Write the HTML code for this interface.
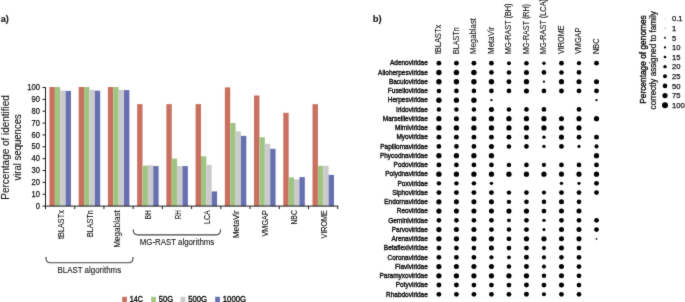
<!DOCTYPE html>
<html><head><meta charset="utf-8"><title>Figure</title>
<style>
html,body{margin:0;padding:0;background:#fff;}
body{width:685px;height:302px;overflow:hidden;}
svg{display:block;font-family:"Liberation Sans", sans-serif;}
text{stroke:#111111;stroke-width:0.4px;}
text.l{stroke-width:0.1px;}
text.m{stroke-width:0.25px;}
</style></head>
<body>
<svg width="685" height="302" viewBox="0 0 685 302" fill="#111111">
<defs><filter id="sb" x="0" y="0" width="685" height="302" filterUnits="userSpaceOnUse" color-interpolation-filters="sRGB"><feConvolveMatrix order="3" kernelMatrix="0.02 0.07 0.02 0.07 0.64 0.07 0.02 0.07 0.02" edgeMode="duplicate" preserveAlpha="true"/></filter></defs>
<g filter="url(#sb)">
<rect x="0" y="0" width="685" height="302" fill="#fff"/>
<rect x="49.45" y="87.00" width="5.375" height="119.10" fill="#C9705F"/>
<rect x="54.83" y="87.00" width="5.375" height="119.10" fill="#A0C582"/>
<rect x="60.20" y="90.50" width="5.375" height="115.60" fill="#CBCBCD"/>
<rect x="65.58" y="90.90" width="5.375" height="115.20" fill="#6670B0"/>
<text class="l" transform="translate(63.60,210.2) rotate(-90)" text-anchor="end" font-size="8.9" textLength="28.8" lengthAdjust="spacingAndGlyphs">tBLASTx</text>
<rect x="78.68" y="87.00" width="5.375" height="119.10" fill="#C9705F"/>
<rect x="84.06" y="87.00" width="5.375" height="119.10" fill="#A0C582"/>
<rect x="89.43" y="89.90" width="5.375" height="116.20" fill="#CBCBCD"/>
<rect x="94.81" y="90.70" width="5.375" height="115.40" fill="#6670B0"/>
<text class="l" transform="translate(92.83,210.2) rotate(-90)" text-anchor="end" font-size="8.9" textLength="26.8" lengthAdjust="spacingAndGlyphs">BLASTn</text>
<rect x="107.91" y="87.00" width="5.375" height="119.10" fill="#C9705F"/>
<rect x="113.28" y="87.00" width="5.375" height="119.10" fill="#A0C582"/>
<rect x="118.66" y="89.90" width="5.375" height="116.20" fill="#CBCBCD"/>
<rect x="124.03" y="90.10" width="5.375" height="116.00" fill="#6670B0"/>
<text class="l" transform="translate(120.26,210.2) rotate(-90)" text-anchor="end" font-size="8.9" textLength="37.5" lengthAdjust="spacingAndGlyphs">Megablast</text>
<rect x="137.14" y="104.10" width="5.375" height="102.00" fill="#C9705F"/>
<rect x="142.51" y="165.70" width="5.375" height="40.40" fill="#A0C582"/>
<rect x="147.89" y="165.20" width="5.375" height="40.90" fill="#CBCBCD"/>
<rect x="153.26" y="166.10" width="5.375" height="40.00" fill="#6670B0"/>
<text class="l" transform="translate(151.29,210.2) rotate(-90)" text-anchor="end" font-size="8.9" textLength="9.1" lengthAdjust="spacingAndGlyphs">BH</text>
<rect x="166.37" y="104.10" width="5.375" height="102.00" fill="#C9705F"/>
<rect x="171.75" y="158.60" width="5.375" height="47.50" fill="#A0C582"/>
<rect x="177.12" y="166.10" width="5.375" height="40.00" fill="#CBCBCD"/>
<rect x="182.50" y="166.10" width="5.375" height="40.00" fill="#6670B0"/>
<text class="l" transform="translate(180.52,210.2) rotate(-90)" text-anchor="end" font-size="8.9" textLength="9.1" lengthAdjust="spacingAndGlyphs">RH</text>
<rect x="195.60" y="104.10" width="5.375" height="102.00" fill="#C9705F"/>
<rect x="200.98" y="156.30" width="5.375" height="49.80" fill="#A0C582"/>
<rect x="206.35" y="164.90" width="5.375" height="41.20" fill="#CBCBCD"/>
<rect x="211.73" y="191.40" width="5.375" height="14.70" fill="#6670B0"/>
<text class="l" transform="translate(209.75,210.2) rotate(-90)" text-anchor="end" font-size="8.9" textLength="13.7" lengthAdjust="spacingAndGlyphs">LCA</text>
<rect x="224.83" y="87.40" width="5.375" height="118.70" fill="#C9705F"/>
<rect x="230.20" y="123.00" width="5.375" height="83.10" fill="#A0C582"/>
<rect x="235.58" y="131.30" width="5.375" height="74.80" fill="#CBCBCD"/>
<rect x="240.95" y="135.90" width="5.375" height="70.20" fill="#6670B0"/>
<text class="l" transform="translate(238.98,210.2) rotate(-90)" text-anchor="end" font-size="8.9" textLength="28.0" lengthAdjust="spacingAndGlyphs">MetaVir</text>
<rect x="254.06" y="95.50" width="5.375" height="110.60" fill="#C9705F"/>
<rect x="259.44" y="137.30" width="5.375" height="68.80" fill="#A0C582"/>
<rect x="264.81" y="143.80" width="5.375" height="62.30" fill="#CBCBCD"/>
<rect x="270.19" y="148.80" width="5.375" height="57.30" fill="#6670B0"/>
<text class="l" transform="translate(268.21,210.2) rotate(-90)" text-anchor="end" font-size="8.9" textLength="26.3" lengthAdjust="spacingAndGlyphs">VMGAP</text>
<rect x="283.29" y="112.80" width="5.375" height="93.30" fill="#C9705F"/>
<rect x="288.67" y="177.40" width="5.375" height="28.70" fill="#A0C582"/>
<rect x="294.04" y="179.40" width="5.375" height="26.70" fill="#CBCBCD"/>
<rect x="299.42" y="177.10" width="5.375" height="29.00" fill="#6670B0"/>
<text class="l" transform="translate(297.44,210.2) rotate(-90)" text-anchor="end" font-size="8.9" textLength="14.4" lengthAdjust="spacingAndGlyphs">NBC</text>
<rect x="312.52" y="104.20" width="5.375" height="101.90" fill="#C9705F"/>
<rect x="317.89" y="165.80" width="5.375" height="40.30" fill="#A0C582"/>
<rect x="323.27" y="165.80" width="5.375" height="40.30" fill="#CBCBCD"/>
<rect x="328.64" y="174.90" width="5.375" height="31.20" fill="#6670B0"/>
<text class="l" transform="translate(326.67,210.2) rotate(-90)" text-anchor="end" font-size="8.9" textLength="28.2" lengthAdjust="spacingAndGlyphs">VIROME</text>
<path d="M45.5,87.2 V206.10 H338.3" fill="none" stroke="#1a1a1a" stroke-width="1"/>
<text class="m" x="40.0" y="208.70" text-anchor="end" font-size="8.3" textLength="4.2" lengthAdjust="spacingAndGlyphs">0</text>
<text class="m" x="40.0" y="196.84" text-anchor="end" font-size="8.3" textLength="8.4" lengthAdjust="spacingAndGlyphs">10</text>
<text class="m" x="40.0" y="184.98" text-anchor="end" font-size="8.3" textLength="8.4" lengthAdjust="spacingAndGlyphs">20</text>
<text class="m" x="40.0" y="173.12" text-anchor="end" font-size="8.3" textLength="8.4" lengthAdjust="spacingAndGlyphs">30</text>
<text class="m" x="40.0" y="161.26" text-anchor="end" font-size="8.3" textLength="8.4" lengthAdjust="spacingAndGlyphs">40</text>
<text class="m" x="40.0" y="149.40" text-anchor="end" font-size="8.3" textLength="8.4" lengthAdjust="spacingAndGlyphs">50</text>
<text class="m" x="40.0" y="137.54" text-anchor="end" font-size="8.3" textLength="8.4" lengthAdjust="spacingAndGlyphs">60</text>
<text class="m" x="40.0" y="125.68" text-anchor="end" font-size="8.3" textLength="8.4" lengthAdjust="spacingAndGlyphs">70</text>
<text class="m" x="40.0" y="113.82" text-anchor="end" font-size="8.3" textLength="8.4" lengthAdjust="spacingAndGlyphs">80</text>
<text class="m" x="40.0" y="101.96" text-anchor="end" font-size="8.3" textLength="8.4" lengthAdjust="spacingAndGlyphs">90</text>
<text class="m" x="40.0" y="90.10" text-anchor="end" font-size="8.3" textLength="12.8" lengthAdjust="spacingAndGlyphs">100</text>
<path d="M42.5,206.10H45.5 M42.5,194.24H45.5 M42.5,182.38H45.5 M42.5,170.52H45.5 M42.5,158.66H45.5 M42.5,146.80H45.5 M42.5,134.94H45.5 M42.5,123.08H45.5 M42.5,111.22H45.5 M42.5,99.36H45.5 M42.5,87.50H45.5 M45.50,206.10V209.10 M74.72,206.10V209.10 M103.94,206.10V209.10 M133.16,206.10V209.10 M162.38,206.10V209.10 M191.60,206.10V209.10 M220.82,206.10V209.10 M250.04,206.10V209.10 M279.26,206.10V209.10 M308.48,206.10V209.10 M337.70,206.10V209.10" stroke="#1a1a1a" stroke-width="1"/>
<text class="l" transform="translate(8.6,147.4) rotate(-90)" text-anchor="middle" font-size="10.6" textLength="104.5" lengthAdjust="spacingAndGlyphs">Percentage of identified</text>
<text class="l" transform="translate(20.7,147.4) rotate(-90)" text-anchor="middle" font-size="10.6" textLength="66.4" lengthAdjust="spacingAndGlyphs">viral sequences</text>
<path d="M46.0,257.0 V258.2 Q46.0,262.7 50.5,262.7 H128.5 Q133.0,262.7 133.0,258.2 V257.0" fill="none" stroke="#454545" stroke-width="1.15"/>
<path d="M133.3,229.6 V230.3 Q133.3,234.8 137.8,234.8 H216.0 Q220.5,234.8 220.5,230.3 V229.6" fill="none" stroke="#454545" stroke-width="1.15"/>
<text class="l" x="89.3" y="272.7" text-anchor="middle" font-size="8.6" textLength="63.7" lengthAdjust="spacingAndGlyphs">BLAST algorithms</text>
<text class="l" x="177" y="244.6" text-anchor="middle" font-size="8.6" textLength="74.5" lengthAdjust="spacingAndGlyphs">MG-RAST algorithms</text>
<rect x="122.2" y="296.8" width="4.7" height="6" fill="#C9705F"/>
<text x="129.8" y="302.4" font-size="8.8" textLength="13.2" lengthAdjust="spacingAndGlyphs">14C</text>
<rect x="151.2" y="296.8" width="4.7" height="6" fill="#A0C582"/>
<text x="158.79999999999998" y="302.4" font-size="8.8" textLength="14.3" lengthAdjust="spacingAndGlyphs">50G</text>
<rect x="180.6" y="296.8" width="4.7" height="6" fill="#CBCBCD"/>
<text x="188.2" y="302.4" font-size="8.8" textLength="18.8" lengthAdjust="spacingAndGlyphs">500G</text>
<rect x="215.2" y="296.8" width="4.7" height="6" fill="#6670B0"/>
<text x="222.79999999999998" y="302.4" font-size="8.8" textLength="23.3" lengthAdjust="spacingAndGlyphs">1000G</text>
<text class="l" x="0.7" y="22.0" font-size="9.5" font-weight="bold" textLength="8.2" lengthAdjust="spacingAndGlyphs">a)</text>
<text class="l" x="372.7" y="22.2" font-size="9.5" font-weight="bold">b)</text>
<text x="427.8" y="65.40" text-anchor="end" font-size="7.1" textLength="37.83" lengthAdjust="spacingAndGlyphs">Adenoviridae</text>
<circle cx="438.90" cy="63.20" r="2.40" fill="#000"/>
<circle cx="456.41" cy="63.20" r="2.40" fill="#000"/>
<circle cx="473.92" cy="63.20" r="2.40" fill="#000"/>
<circle cx="491.43" cy="63.20" r="2.40" fill="#000"/>
<circle cx="508.94" cy="63.20" r="1.94" fill="#000"/>
<circle cx="526.45" cy="63.20" r="2.31" fill="#000"/>
<circle cx="543.96" cy="63.20" r="1.72" fill="#000"/>
<circle cx="561.47" cy="63.20" r="2.40" fill="#000"/>
<circle cx="578.98" cy="63.20" r="2.11" fill="#000"/>
<circle cx="596.49" cy="63.20" r="2.42" fill="#000"/>
<text x="427.8" y="74.64" text-anchor="end" font-size="7.1" textLength="49.71" lengthAdjust="spacingAndGlyphs">Alloherpesviridae</text>
<circle cx="438.90" cy="72.44" r="2.70" fill="#000"/>
<circle cx="456.41" cy="72.44" r="2.70" fill="#000"/>
<circle cx="473.92" cy="72.44" r="2.73" fill="#000"/>
<circle cx="491.43" cy="72.44" r="2.34" fill="#000"/>
<circle cx="508.94" cy="72.44" r="2.29" fill="#000"/>
<circle cx="526.45" cy="72.44" r="2.53" fill="#000"/>
<circle cx="543.96" cy="72.44" r="2.34" fill="#000"/>
<circle cx="561.47" cy="72.44" r="2.31" fill="#000"/>
<circle cx="578.98" cy="72.44" r="2.34" fill="#000"/>
<text x="427.8" y="83.89" text-anchor="end" font-size="7.1" textLength="38.90" lengthAdjust="spacingAndGlyphs">Baculoviridae</text>
<circle cx="438.90" cy="81.69" r="2.70" fill="#000"/>
<circle cx="456.41" cy="81.69" r="2.70" fill="#000"/>
<circle cx="473.92" cy="81.69" r="2.70" fill="#000"/>
<circle cx="491.43" cy="81.69" r="2.70" fill="#000"/>
<circle cx="508.94" cy="81.69" r="2.45" fill="#000"/>
<circle cx="526.45" cy="81.69" r="2.64" fill="#000"/>
<circle cx="543.96" cy="81.69" r="1.15" fill="#000"/>
<circle cx="561.47" cy="81.69" r="2.59" fill="#000"/>
<circle cx="578.98" cy="81.69" r="2.53" fill="#000"/>
<circle cx="596.49" cy="81.69" r="2.53" fill="#000"/>
<text x="427.8" y="93.13" text-anchor="end" font-size="7.1" textLength="39.98" lengthAdjust="spacingAndGlyphs">Fuselloviridae</text>
<circle cx="438.90" cy="90.93" r="2.29" fill="#000"/>
<circle cx="456.41" cy="90.93" r="2.34" fill="#000"/>
<circle cx="473.92" cy="90.93" r="2.31" fill="#000"/>
<circle cx="491.43" cy="90.93" r="2.34" fill="#000"/>
<circle cx="508.94" cy="90.93" r="2.34" fill="#000"/>
<circle cx="526.45" cy="90.93" r="2.53" fill="#000"/>
<circle cx="543.96" cy="90.93" r="2.34" fill="#000"/>
<circle cx="561.47" cy="90.93" r="2.45" fill="#000"/>
<circle cx="578.98" cy="90.93" r="2.40" fill="#000"/>
<circle cx="596.49" cy="90.93" r="2.42" fill="#000"/>
<text x="427.8" y="102.38" text-anchor="end" font-size="7.1" textLength="39.98" lengthAdjust="spacingAndGlyphs">Herpesviridae</text>
<circle cx="438.90" cy="100.18" r="2.70" fill="#000"/>
<circle cx="456.41" cy="100.18" r="2.64" fill="#000"/>
<circle cx="473.92" cy="100.18" r="2.70" fill="#000"/>
<circle cx="491.43" cy="100.18" r="1.15" fill="#000"/>
<circle cx="596.49" cy="100.18" r="1.15" fill="#000"/>
<text x="427.8" y="111.62" text-anchor="end" font-size="7.1" textLength="31.69" lengthAdjust="spacingAndGlyphs">Iridoviridae</text>
<circle cx="438.90" cy="109.42" r="2.23" fill="#000"/>
<circle cx="456.41" cy="109.42" r="2.23" fill="#000"/>
<circle cx="473.92" cy="109.42" r="2.23" fill="#000"/>
<circle cx="491.43" cy="109.42" r="2.53" fill="#000"/>
<circle cx="508.94" cy="109.42" r="2.29" fill="#000"/>
<circle cx="526.45" cy="109.42" r="2.34" fill="#000"/>
<circle cx="543.96" cy="109.42" r="2.34" fill="#000"/>
<circle cx="578.98" cy="109.42" r="2.34" fill="#000"/>
<text x="427.8" y="120.86" text-anchor="end" font-size="7.1" textLength="45.02" lengthAdjust="spacingAndGlyphs">Marseilleviridae</text>
<circle cx="438.90" cy="118.66" r="2.59" fill="#000"/>
<circle cx="456.41" cy="118.66" r="2.53" fill="#000"/>
<circle cx="473.92" cy="118.66" r="2.53" fill="#000"/>
<circle cx="491.43" cy="118.66" r="2.64" fill="#000"/>
<circle cx="508.94" cy="118.66" r="2.64" fill="#000"/>
<circle cx="526.45" cy="118.66" r="2.62" fill="#000"/>
<circle cx="543.96" cy="118.66" r="2.59" fill="#000"/>
<circle cx="561.47" cy="118.66" r="2.53" fill="#000"/>
<circle cx="578.98" cy="118.66" r="2.56" fill="#000"/>
<circle cx="596.49" cy="118.66" r="2.59" fill="#000"/>
<text x="427.8" y="130.11" text-anchor="end" font-size="7.1" textLength="32.76" lengthAdjust="spacingAndGlyphs">Mimiviridae</text>
<circle cx="438.90" cy="127.91" r="2.70" fill="#000"/>
<circle cx="456.41" cy="127.91" r="2.64" fill="#000"/>
<circle cx="473.92" cy="127.91" r="2.67" fill="#000"/>
<circle cx="491.43" cy="127.91" r="2.64" fill="#000"/>
<circle cx="508.94" cy="127.91" r="2.64" fill="#000"/>
<circle cx="526.45" cy="127.91" r="2.62" fill="#000"/>
<circle cx="543.96" cy="127.91" r="2.59" fill="#000"/>
<circle cx="561.47" cy="127.91" r="2.53" fill="#000"/>
<circle cx="578.98" cy="127.91" r="2.56" fill="#000"/>
<text x="427.8" y="139.35" text-anchor="end" font-size="7.1" textLength="31.33" lengthAdjust="spacingAndGlyphs">Myoviridae</text>
<circle cx="438.90" cy="137.15" r="2.45" fill="#000"/>
<circle cx="456.41" cy="137.15" r="2.45" fill="#000"/>
<circle cx="473.92" cy="137.15" r="2.45" fill="#000"/>
<circle cx="491.43" cy="137.15" r="2.45" fill="#000"/>
<circle cx="508.94" cy="137.15" r="2.45" fill="#000"/>
<circle cx="526.45" cy="137.15" r="2.34" fill="#000"/>
<circle cx="543.96" cy="137.15" r="1.72" fill="#000"/>
<circle cx="561.47" cy="137.15" r="2.53" fill="#000"/>
<circle cx="578.98" cy="137.15" r="2.34" fill="#000"/>
<circle cx="596.49" cy="137.15" r="2.45" fill="#000"/>
<text x="427.8" y="148.60" text-anchor="end" font-size="7.1" textLength="47.54" lengthAdjust="spacingAndGlyphs">Papillomaviridae</text>
<circle cx="438.90" cy="146.40" r="2.34" fill="#000"/>
<circle cx="456.41" cy="146.40" r="2.34" fill="#000"/>
<circle cx="473.92" cy="146.40" r="2.34" fill="#000"/>
<circle cx="491.43" cy="146.40" r="2.51" fill="#000"/>
<circle cx="508.94" cy="146.40" r="2.23" fill="#000"/>
<circle cx="526.45" cy="146.40" r="2.34" fill="#000"/>
<circle cx="543.96" cy="146.40" r="1.72" fill="#000"/>
<circle cx="561.47" cy="146.40" r="2.40" fill="#000"/>
<circle cx="578.98" cy="146.40" r="1.55" fill="#000"/>
<circle cx="596.49" cy="146.40" r="2.06" fill="#000"/>
<text x="427.8" y="157.84" text-anchor="end" font-size="7.1" textLength="47.91" lengthAdjust="spacingAndGlyphs">Phycodnaviridae</text>
<circle cx="438.90" cy="155.64" r="2.64" fill="#000"/>
<circle cx="456.41" cy="155.64" r="2.64" fill="#000"/>
<circle cx="473.92" cy="155.64" r="2.64" fill="#000"/>
<circle cx="491.43" cy="155.64" r="2.64" fill="#000"/>
<circle cx="596.49" cy="155.64" r="2.59" fill="#000"/>
<text x="427.8" y="167.08" text-anchor="end" font-size="7.1" textLength="34.22" lengthAdjust="spacingAndGlyphs">Podoviridae</text>
<circle cx="438.90" cy="164.88" r="2.45" fill="#000"/>
<circle cx="456.41" cy="164.88" r="2.40" fill="#000"/>
<circle cx="473.92" cy="164.88" r="2.40" fill="#000"/>
<circle cx="491.43" cy="164.88" r="2.34" fill="#000"/>
<circle cx="508.94" cy="164.88" r="2.23" fill="#000"/>
<circle cx="526.45" cy="164.88" r="2.34" fill="#000"/>
<circle cx="543.96" cy="164.88" r="2.11" fill="#000"/>
<circle cx="561.47" cy="164.88" r="2.40" fill="#000"/>
<circle cx="578.98" cy="164.88" r="2.34" fill="#000"/>
<circle cx="596.49" cy="164.88" r="2.40" fill="#000"/>
<text x="427.8" y="176.33" text-anchor="end" font-size="7.1" textLength="42.51" lengthAdjust="spacingAndGlyphs">Polydnaviridae</text>
<circle cx="438.90" cy="174.13" r="2.70" fill="#000"/>
<circle cx="456.41" cy="174.13" r="2.64" fill="#000"/>
<circle cx="473.92" cy="174.13" r="2.64" fill="#000"/>
<circle cx="491.43" cy="174.13" r="2.59" fill="#000"/>
<circle cx="508.94" cy="174.13" r="2.64" fill="#000"/>
<circle cx="526.45" cy="174.13" r="2.62" fill="#000"/>
<circle cx="543.96" cy="174.13" r="2.59" fill="#000"/>
<circle cx="561.47" cy="174.13" r="2.53" fill="#000"/>
<circle cx="578.98" cy="174.13" r="2.56" fill="#000"/>
<circle cx="596.49" cy="174.13" r="2.59" fill="#000"/>
<text x="427.8" y="185.57" text-anchor="end" font-size="7.1" textLength="30.26" lengthAdjust="spacingAndGlyphs">Poxviridae</text>
<circle cx="438.90" cy="183.37" r="2.23" fill="#000"/>
<circle cx="456.41" cy="183.37" r="2.23" fill="#000"/>
<circle cx="473.92" cy="183.37" r="2.23" fill="#000"/>
<circle cx="491.43" cy="183.37" r="1.72" fill="#000"/>
<circle cx="561.47" cy="183.37" r="1.72" fill="#000"/>
<circle cx="578.98" cy="183.37" r="1.60" fill="#000"/>
<circle cx="596.49" cy="183.37" r="2.40" fill="#000"/>
<text x="427.8" y="194.82" text-anchor="end" font-size="7.1" textLength="35.66" lengthAdjust="spacingAndGlyphs">Siphoviridae</text>
<circle cx="438.90" cy="192.62" r="2.45" fill="#000"/>
<circle cx="456.41" cy="192.62" r="2.45" fill="#000"/>
<circle cx="473.92" cy="192.62" r="2.45" fill="#000"/>
<circle cx="491.43" cy="192.62" r="2.45" fill="#000"/>
<circle cx="508.94" cy="192.62" r="2.23" fill="#000"/>
<circle cx="526.45" cy="192.62" r="2.34" fill="#000"/>
<circle cx="543.96" cy="192.62" r="2.06" fill="#000"/>
<circle cx="561.47" cy="192.62" r="2.45" fill="#000"/>
<circle cx="578.98" cy="192.62" r="2.34" fill="#000"/>
<circle cx="596.49" cy="192.62" r="2.40" fill="#000"/>
<text x="427.8" y="204.06" text-anchor="end" font-size="7.1" textLength="43.59" lengthAdjust="spacingAndGlyphs">Endornaviridae</text>
<circle cx="438.90" cy="201.86" r="2.59" fill="#000"/>
<circle cx="456.41" cy="201.86" r="2.53" fill="#000"/>
<circle cx="473.92" cy="201.86" r="2.53" fill="#000"/>
<circle cx="491.43" cy="201.86" r="2.53" fill="#000"/>
<circle cx="508.94" cy="201.86" r="2.23" fill="#000"/>
<circle cx="526.45" cy="201.86" r="2.34" fill="#000"/>
<circle cx="543.96" cy="201.86" r="2.29" fill="#000"/>
<circle cx="561.47" cy="201.86" r="2.51" fill="#000"/>
<circle cx="578.98" cy="201.86" r="2.34" fill="#000"/>
<text x="427.8" y="213.30" text-anchor="end" font-size="7.1" textLength="30.98" lengthAdjust="spacingAndGlyphs">Reoviridae</text>
<circle cx="438.90" cy="211.10" r="2.59" fill="#000"/>
<circle cx="456.41" cy="211.10" r="2.53" fill="#000"/>
<circle cx="473.92" cy="211.10" r="2.53" fill="#000"/>
<circle cx="491.43" cy="211.10" r="2.53" fill="#000"/>
<circle cx="508.94" cy="211.10" r="2.59" fill="#000"/>
<circle cx="526.45" cy="211.10" r="2.62" fill="#000"/>
<circle cx="543.96" cy="211.10" r="2.42" fill="#000"/>
<circle cx="561.47" cy="211.10" r="2.51" fill="#000"/>
<circle cx="578.98" cy="211.10" r="2.51" fill="#000"/>
<text x="427.8" y="222.55" text-anchor="end" font-size="7.1" textLength="39.61" lengthAdjust="spacingAndGlyphs">Geminiviridae</text>
<circle cx="438.90" cy="220.35" r="2.34" fill="#000"/>
<circle cx="456.41" cy="220.35" r="2.34" fill="#000"/>
<circle cx="473.92" cy="220.35" r="2.34" fill="#000"/>
<circle cx="491.43" cy="220.35" r="2.40" fill="#000"/>
<circle cx="508.94" cy="220.35" r="1.94" fill="#000"/>
<circle cx="526.45" cy="220.35" r="2.34" fill="#000"/>
<circle cx="543.96" cy="220.35" r="1.72" fill="#000"/>
<circle cx="561.47" cy="220.35" r="2.40" fill="#000"/>
<circle cx="578.98" cy="220.35" r="2.34" fill="#000"/>
<circle cx="596.49" cy="220.35" r="2.45" fill="#000"/>
<text x="427.8" y="231.79" text-anchor="end" font-size="7.1" textLength="36.02" lengthAdjust="spacingAndGlyphs">Parvoviridae</text>
<circle cx="438.90" cy="229.59" r="2.59" fill="#000"/>
<circle cx="456.41" cy="229.59" r="2.53" fill="#000"/>
<circle cx="473.92" cy="229.59" r="2.53" fill="#000"/>
<circle cx="491.43" cy="229.59" r="2.42" fill="#000"/>
<circle cx="508.94" cy="229.59" r="2.23" fill="#000"/>
<circle cx="526.45" cy="229.59" r="2.45" fill="#000"/>
<circle cx="543.96" cy="229.59" r="1.55" fill="#000"/>
<circle cx="561.47" cy="229.59" r="2.51" fill="#000"/>
<circle cx="578.98" cy="229.59" r="2.51" fill="#000"/>
<circle cx="596.49" cy="229.59" r="2.40" fill="#000"/>
<text x="427.8" y="241.04" text-anchor="end" font-size="7.1" textLength="36.38" lengthAdjust="spacingAndGlyphs">Arenaviridae</text>
<circle cx="438.90" cy="238.84" r="2.70" fill="#000"/>
<circle cx="456.41" cy="238.84" r="2.64" fill="#000"/>
<circle cx="473.92" cy="238.84" r="2.64" fill="#000"/>
<circle cx="491.43" cy="238.84" r="2.64" fill="#000"/>
<circle cx="508.94" cy="238.84" r="2.42" fill="#000"/>
<circle cx="526.45" cy="238.84" r="2.62" fill="#000"/>
<circle cx="543.96" cy="238.84" r="2.59" fill="#000"/>
<circle cx="561.47" cy="238.84" r="2.51" fill="#000"/>
<circle cx="578.98" cy="238.84" r="2.56" fill="#000"/>
<circle cx="596.49" cy="238.84" r="0.87" fill="#000"/>
<text x="427.8" y="250.28" text-anchor="end" font-size="7.1" textLength="43.94" lengthAdjust="spacingAndGlyphs">Betaflexiviridae</text>
<circle cx="438.90" cy="248.08" r="2.40" fill="#000"/>
<circle cx="456.41" cy="248.08" r="2.40" fill="#000"/>
<circle cx="473.92" cy="248.08" r="2.34" fill="#000"/>
<circle cx="491.43" cy="248.08" r="2.53" fill="#000"/>
<circle cx="508.94" cy="248.08" r="2.34" fill="#000"/>
<circle cx="526.45" cy="248.08" r="2.45" fill="#000"/>
<circle cx="543.96" cy="248.08" r="2.06" fill="#000"/>
<circle cx="561.47" cy="248.08" r="2.51" fill="#000"/>
<circle cx="578.98" cy="248.08" r="2.34" fill="#000"/>
<text x="427.8" y="259.52" text-anchor="end" font-size="7.1" textLength="40.34" lengthAdjust="spacingAndGlyphs">Coronaviridae</text>
<circle cx="438.90" cy="257.32" r="2.40" fill="#000"/>
<circle cx="456.41" cy="257.32" r="2.40" fill="#000"/>
<circle cx="473.92" cy="257.32" r="2.34" fill="#000"/>
<circle cx="491.43" cy="257.32" r="2.11" fill="#000"/>
<circle cx="508.94" cy="257.32" r="1.94" fill="#000"/>
<circle cx="526.45" cy="257.32" r="2.45" fill="#000"/>
<circle cx="543.96" cy="257.32" r="2.06" fill="#000"/>
<circle cx="561.47" cy="257.32" r="2.31" fill="#000"/>
<circle cx="578.98" cy="257.32" r="2.34" fill="#000"/>
<text x="427.8" y="268.77" text-anchor="end" font-size="7.1" textLength="32.77" lengthAdjust="spacingAndGlyphs">Flaviviridae</text>
<circle cx="438.90" cy="266.57" r="2.59" fill="#000"/>
<circle cx="456.41" cy="266.57" r="2.53" fill="#000"/>
<circle cx="473.92" cy="266.57" r="2.53" fill="#000"/>
<circle cx="491.43" cy="266.57" r="2.51" fill="#000"/>
<circle cx="508.94" cy="266.57" r="2.23" fill="#000"/>
<circle cx="526.45" cy="266.57" r="2.45" fill="#000"/>
<circle cx="543.96" cy="266.57" r="2.06" fill="#000"/>
<circle cx="561.47" cy="266.57" r="2.51" fill="#000"/>
<circle cx="578.98" cy="266.57" r="2.40" fill="#000"/>
<text x="427.8" y="278.01" text-anchor="end" font-size="7.1" textLength="48.26" lengthAdjust="spacingAndGlyphs">Paramyxoviridae</text>
<circle cx="438.90" cy="275.81" r="2.64" fill="#000"/>
<circle cx="456.41" cy="275.81" r="2.64" fill="#000"/>
<circle cx="473.92" cy="275.81" r="2.59" fill="#000"/>
<circle cx="491.43" cy="275.81" r="2.59" fill="#000"/>
<circle cx="508.94" cy="275.81" r="2.64" fill="#000"/>
<circle cx="526.45" cy="275.81" r="2.62" fill="#000"/>
<circle cx="543.96" cy="275.81" r="2.23" fill="#000"/>
<circle cx="561.47" cy="275.81" r="2.51" fill="#000"/>
<circle cx="578.98" cy="275.81" r="2.40" fill="#000"/>
<text x="427.8" y="287.26" text-anchor="end" font-size="7.1" textLength="32.06" lengthAdjust="spacingAndGlyphs">Potyviridae</text>
<circle cx="438.90" cy="285.06" r="2.45" fill="#000"/>
<circle cx="456.41" cy="285.06" r="2.45" fill="#000"/>
<circle cx="473.92" cy="285.06" r="2.40" fill="#000"/>
<circle cx="491.43" cy="285.06" r="2.40" fill="#000"/>
<circle cx="508.94" cy="285.06" r="2.40" fill="#000"/>
<circle cx="526.45" cy="285.06" r="2.45" fill="#000"/>
<circle cx="543.96" cy="285.06" r="2.42" fill="#000"/>
<circle cx="561.47" cy="285.06" r="2.51" fill="#000"/>
<circle cx="578.98" cy="285.06" r="2.34" fill="#000"/>
<text x="427.8" y="296.50" text-anchor="end" font-size="7.1" textLength="41.79" lengthAdjust="spacingAndGlyphs">Rhabdoviridae</text>
<circle cx="438.90" cy="294.30" r="2.40" fill="#000"/>
<circle cx="456.41" cy="294.30" r="2.40" fill="#000"/>
<circle cx="473.92" cy="294.30" r="2.40" fill="#000"/>
<circle cx="491.43" cy="294.30" r="2.40" fill="#000"/>
<circle cx="508.94" cy="294.30" r="2.40" fill="#000"/>
<circle cx="526.45" cy="294.30" r="2.45" fill="#000"/>
<circle cx="543.96" cy="294.30" r="2.06" fill="#000"/>
<circle cx="561.47" cy="294.30" r="2.40" fill="#000"/>
<circle cx="578.98" cy="294.30" r="2.34" fill="#000"/>
<text class="l" transform="translate(441.20,54) rotate(-90)" font-size="8.4" textLength="29.3" lengthAdjust="spacingAndGlyphs">tBLASTx</text>
<text class="l" transform="translate(458.71,54) rotate(-90)" font-size="8.4" textLength="26.7" lengthAdjust="spacingAndGlyphs">BLASTn</text>
<text class="l" transform="translate(476.22,54) rotate(-90)" font-size="8.4" textLength="36.0" lengthAdjust="spacingAndGlyphs">Megablast</text>
<text class="l" transform="translate(493.73,54) rotate(-90)" font-size="8.4" textLength="27.4" lengthAdjust="spacingAndGlyphs">MetaVir</text>
<text class="l" transform="translate(511.24,54) rotate(-90)" font-size="8.4" textLength="50.5" lengthAdjust="spacingAndGlyphs">MG-RAST (BH)</text>
<text class="l" transform="translate(528.75,54) rotate(-90)" font-size="8.4" textLength="50.0" lengthAdjust="spacingAndGlyphs">MG-RAST (RH)</text>
<text class="l" transform="translate(546.26,54) rotate(-90)" font-size="8.4" textLength="55.0" lengthAdjust="spacingAndGlyphs">MG-RAST (LCA)</text>
<text class="l" transform="translate(563.77,54) rotate(-90)" font-size="8.4" textLength="28.7" lengthAdjust="spacingAndGlyphs">VIROME</text>
<text class="l" transform="translate(581.28,54) rotate(-90)" font-size="8.4" textLength="26.3" lengthAdjust="spacingAndGlyphs">VMGAP</text>
<text class="l" transform="translate(598.79,54) rotate(-90)" font-size="8.4" textLength="15.6" lengthAdjust="spacingAndGlyphs">NBC</text>
<circle cx="665" cy="18.50" r="0.50" fill="#bbb"/>
<text class="m" x="672" y="21.30" font-size="7.6">0.1</text>
<circle cx="665" cy="28.13" r="0.60" fill="#888"/>
<text class="m" x="672" y="30.93" font-size="7.6">1</text>
<circle cx="665" cy="37.76" r="0.90" fill="#000"/>
<text class="m" x="672" y="40.56" font-size="7.6">5</text>
<circle cx="665" cy="47.39" r="1.10" fill="#000"/>
<text class="m" x="672" y="50.19" font-size="7.6">10</text>
<circle cx="665" cy="57.02" r="1.35" fill="#000"/>
<text class="m" x="672" y="59.82" font-size="7.6">15</text>
<circle cx="665" cy="66.65" r="1.70" fill="#000"/>
<text class="m" x="672" y="69.45" font-size="7.6">20</text>
<circle cx="665" cy="76.28" r="2.00" fill="#000"/>
<text class="m" x="672" y="79.08" font-size="7.6">25</text>
<circle cx="665" cy="85.91" r="2.30" fill="#000"/>
<text class="m" x="672" y="88.71" font-size="7.6">50</text>
<circle cx="665" cy="95.54" r="2.60" fill="#000"/>
<text class="m" x="672" y="98.34" font-size="7.6">75</text>
<circle cx="665" cy="105.17" r="3.00" fill="#000"/>
<text class="m" x="672" y="107.97" font-size="7.6">100</text>
<text transform="translate(645.6,59.5) rotate(-90)" text-anchor="middle" font-size="8.5" textLength="88.6" lengthAdjust="spacingAndGlyphs">Percentage of genomes</text>
<text class="m" transform="translate(655.5,60.3) rotate(-90)" text-anchor="middle" font-size="8.5" textLength="98.2" lengthAdjust="spacingAndGlyphs">correctly assigned to family</text>
</g>
</svg>
</body></html>
